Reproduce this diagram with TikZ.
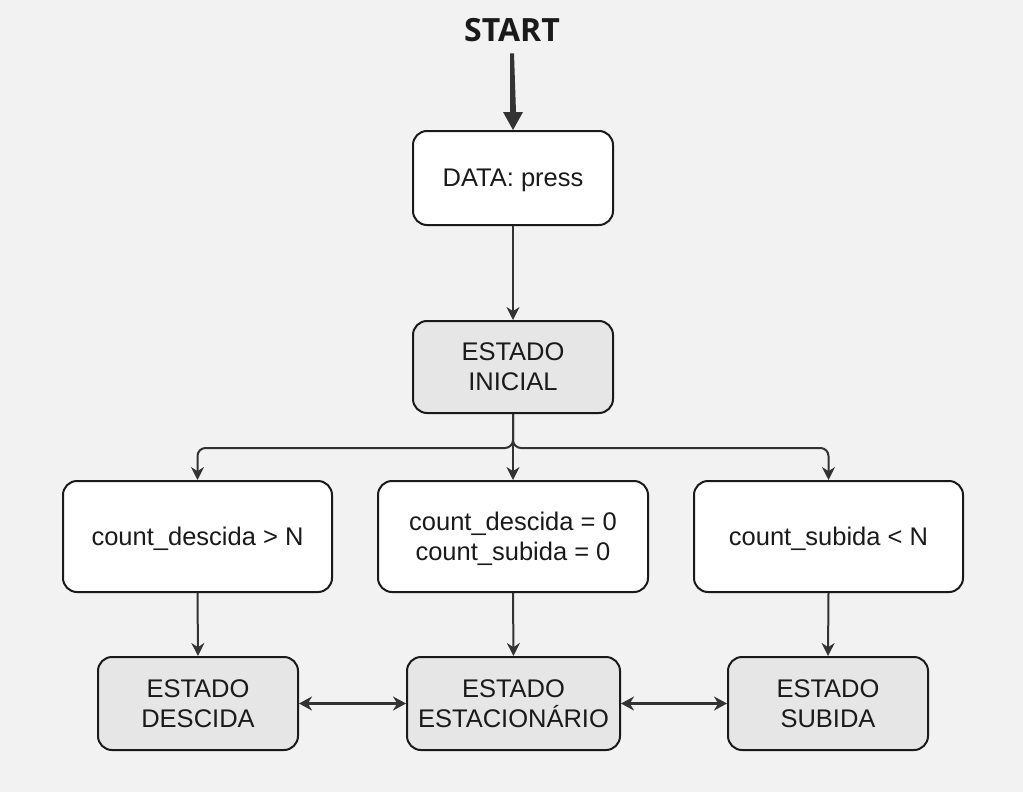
\documentclass[tikz,border=0pt]{standalone}
\usepackage{fontspec}
\setmainfont{Liberation Sans}
\newfontfamily\startfont{Open Sans}
\usetikzlibrary{arrows.meta,calc}
\definecolor{bg}{HTML}{F2F2F2}
\definecolor{gr}{HTML}{E6E6E6}
\definecolor{ln}{HTML}{333333}
\definecolor{bd}{HTML}{1A1A1A}
\begin{document}
\begin{tikzpicture}[x=1pt,y=-1pt,
  box/.style={draw=bd, line width=2pt, rounded corners=14pt, align=center,
    font=\fontsize{25.5}{30}\selectfont, text=bd, inner sep=0pt, text depth=0pt},
  wbox/.style={box, fill=white},
  gbox/.style={box, fill=gr},
  conn/.style={draw=ln, line width=2pt, -{Stealth[length=13pt,width=13pt]}},
  dconn/.style={draw=ln, line width=2.5pt,
    {Stealth[length=13pt,width=14pt]}-{Stealth[length=13pt,width=14pt]}},
]
\fill[bg] (0,0) rectangle (1023,792);
\useasboundingbox (0,0) rectangle (1023,792);

\node[font=\startfont\bfseries\fontsize{32}{38}\selectfont, text=bd, text depth=0pt, inner sep=0pt] (start) at (512,29.5) {START};

\node[wbox, minimum width=200pt, minimum height=94pt] (data) at (513,178) {DATA: press};
\node[gbox, minimum width=200pt, minimum height=92pt] (ini) at (513,367) {ESTADO\\INICIAL};

\node[wbox, minimum width=269pt, minimum height=111pt] (c1) at (197.5,536.5) {count\_descida > N};
\node[wbox, minimum width=270pt, minimum height=111pt] (c2) at (513,536.5) {count\_descida = 0\\count\_subida = 0};
\node[wbox, minimum width=269pt, minimum height=111pt] (c3) at (828.5,536.5) {count\_subida < N};

\node[gbox, minimum width=200pt, minimum height=93pt] (b1) at (198,703.5) {ESTADO\\DESCIDA};
\node[gbox, minimum width=213pt, minimum height=93pt] (b2) at (513.5,703.5) {ESTADO\\ESTACIONÁRIO};
\node[gbox, minimum width=200pt, minimum height=93pt] (b3) at (828,703.5) {ESTADO\\SUBIDA};

% START arrow (tapered)
\fill[ln] ($(start.center)+(-2,24)$) -- ($(start.center)+(2,24)$) -- ($(data.north)+(3,-18)$)
  -- ($(data.north)+(10,-18)$) -- (data.north) -- ($(data.north)+(-10,-18)$)
  -- ($(data.north)+(-3,-18)$) -- cycle;

\draw[conn] (data.south) -- (ini.north);

\draw[conn, rounded corners=8pt] (ini.south) -- ++(0,34) -| (c1.north);
\draw[conn] (ini.south) -- (c2.north);
\draw[conn, rounded corners=8pt] (ini.south) -- ++(0,34) -| (c3.north);

\draw[conn] (c1.south) -- (b1.north);
\draw[conn] (c2.south) -- (b2.north);
\draw[conn] (c3.south) -- (b3.north);

\draw[dconn] (b1.east) -- (b2.west);
\draw[dconn] (b2.east) -- (b3.west);
\end{tikzpicture}
\end{document}
